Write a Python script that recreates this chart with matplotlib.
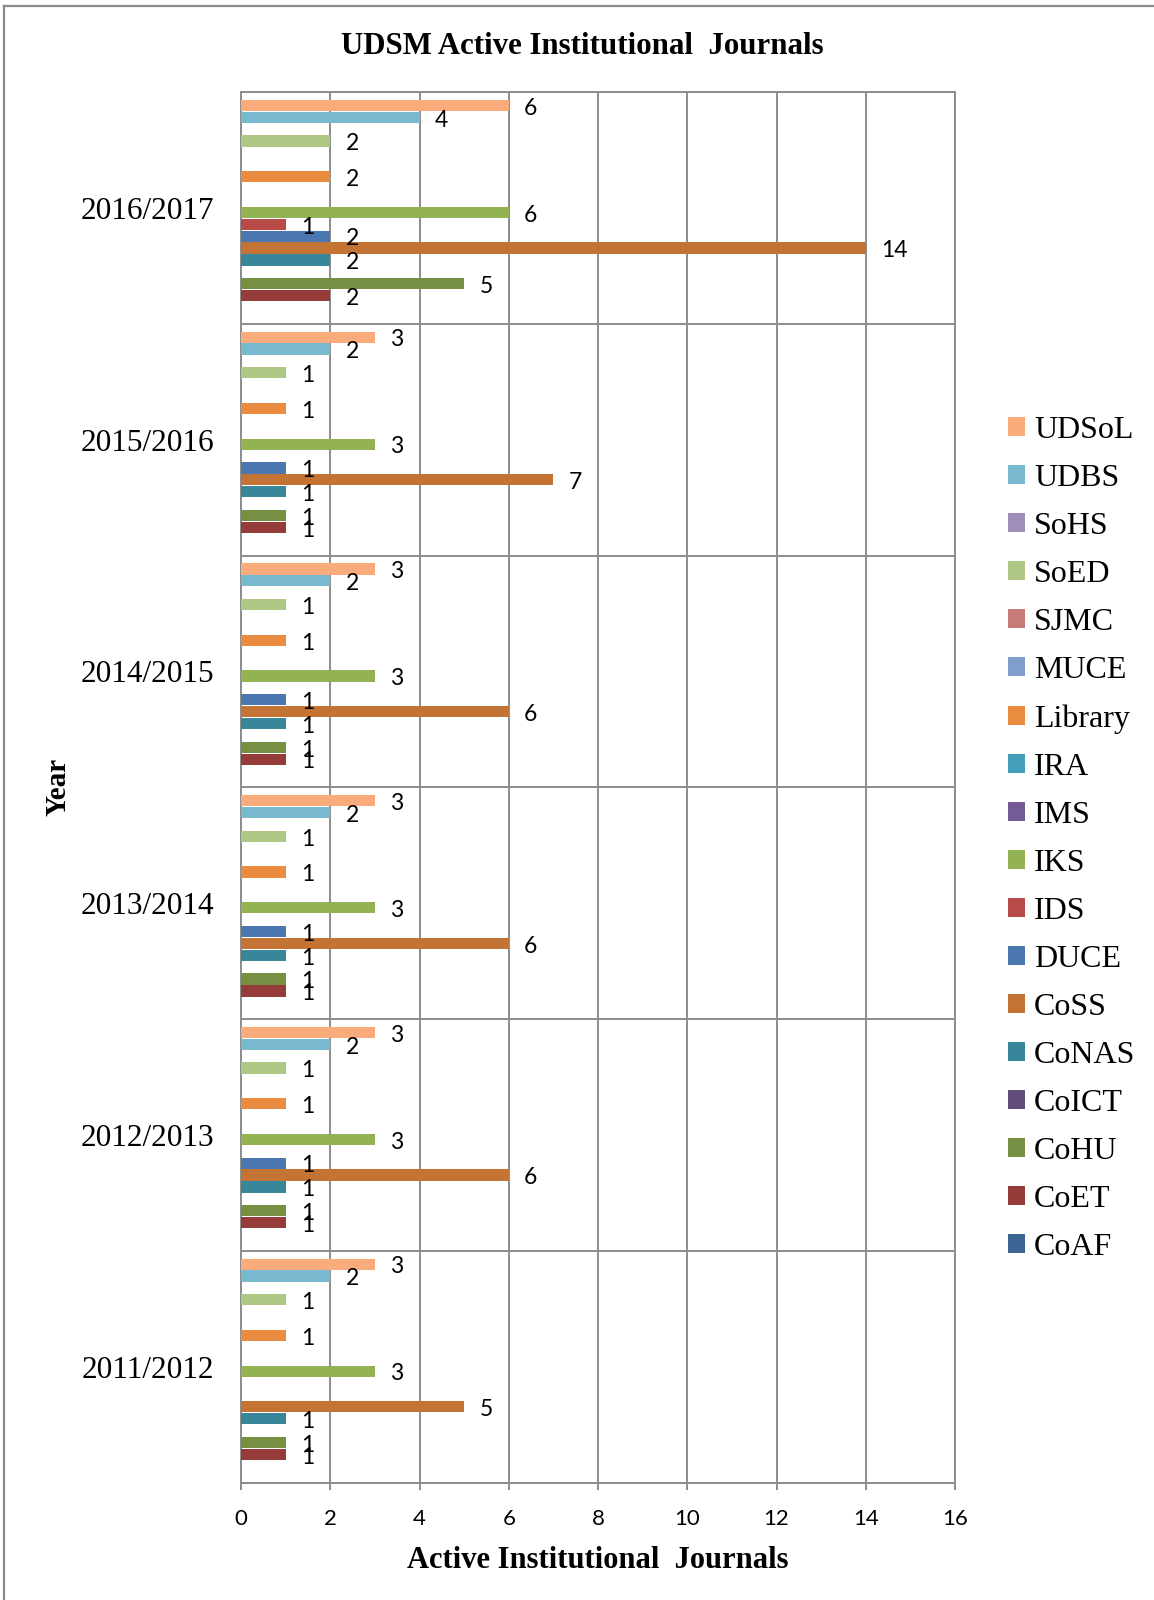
import numpy as np
import matplotlib
matplotlib.use("Agg")
import matplotlib.pyplot as plt
from matplotlib.patches import Patch

# series, bottom-to-top inside each year group (Excel order)
series = ['CoAF', 'CoET', 'CoHU', 'CoICT', 'CoNAS', 'CoSS', 'DUCE', 'IDS', 'IKS',
          'IMS', 'IRA', 'Library', 'MUCE', 'SJMC', 'SoED', 'SoHS', 'UDBS', 'UDSoL']
colors = ['#3C6594', '#953C3A', '#778F43', '#624C7C', '#37869A', '#C37434',
          '#4A77B0', '#B74B48', '#92B253', '#755B96', '#44A0BA', '#E98C3F',
          '#7F9ECB', '#C87A78', '#AFC784', '#9F8DBA', '#78B9D0', '#F9AB7B']

years = ['2011/2012', '2012/2013', '2013/2014', '2014/2015', '2015/2016', '2016/2017']

# None = empty cell (no bar, no label)
y2011_12 = [None, 1, 1, None, 1, 5, None, None, 3, None, None, 1, None, None, 1, None, 2, 3]
y2012_13 = [None, 1, 1, None, 1, 6, 1, None, 3, None, None, 1, None, None, 1, None, 2, 3]
y2013_14 = [None, 1, 1, None, 1, 6, 1, None, 3, None, None, 1, None, None, 1, None, 2, 3]
y2014_15 = [None, 1, 1, None, 1, 6, 1, None, 3, None, None, 1, None, None, 1, None, 2, 3]
y2015_16 = [None, 1, 1, None, 1, 7, 1, None, 3, None, None, 1, None, None, 1, None, 2, 3]
y2016_17 = [None, 2, 5, None, 2, 14, 2, 1, 6, None, None, 2, None, None, 2, None, 4, 6]

data = [y2011_12, y2012_13, y2013_14, y2014_15, y2015_16, y2016_17]

serif = 'Liberation Serif'
sans = 'Lato'
grid_c = '#8C8C8C'

fig = plt.figure(figsize=(11.54, 16), dpi=100)
ax = fig.add_axes([241/1154, 1-1482.5/1600, (955-241)/1154, (1482.5-92)/1600])

ns = len(series)
slot = 0.0513
bar_h = slot * 0.95
for j, name in enumerate(series):
    ys, ws = [], []
    for i, row in enumerate(data):
        if row[j] is not None:
            ys.append(i - ns*slot/2 + (j+0.5)*slot + 0.006)
            ws.append(row[j])
    ax.barh(ys, ws, height=bar_h, color=colors[j], linewidth=0, zorder=3)
    for yy, ww in zip(ys, ws):
        ax.annotate(str(ww), (ww, yy), xytext=(11, -2), textcoords='offset points',
                    ha='left', va='center', fontsize=16.5, family=sans, zorder=4)

ax.set_xlim(0, 16)
ax.set_ylim(-0.5, len(years)-0.5)
ax.set_xticks(np.arange(0, 17, 2))
ax.set_yticks(range(len(years)))
ax.set_yticklabels(years, family=serif, fontsize=22.5)
for lab in ax.get_xticklabels():
    lab.set_family(sans)
    lab.set_fontsize(16)
ax.tick_params(axis='y', length=0, pad=19)
ax.tick_params(axis='x', length=5, width=1.4, color=grid_c, pad=14)

# gridlines: vertical at ticks, horizontal between year groups
for x in np.arange(0, 17, 2):
    ax.axvline(x, color=grid_c, lw=1.4, zorder=1)
for b in np.arange(-0.5, len(years), 1.0):
    ax.axhline(b, color=grid_c, lw=1.4, zorder=1)
for s in ax.spines.values():
    s.set_color(grid_c)
    s.set_linewidth(1.4)

ax.set_xlabel('Active Institutional  Journals', family=serif, fontsize=22, fontweight='bold')
ax.xaxis.set_label_coords(0.5, -(1561-1482.5)/1390.5)
ax.xaxis.label.set_va('center')
ax.set_ylabel('Year', family=serif, fontsize=21, fontweight='bold')
ax.yaxis.set_label_coords(-(241-58)/714, 0.5)
ax.yaxis.label.set_va('center')

fig.text(582/1154, 1-46/1600, 'UDSM Active Institutional  Journals', family=serif,
         fontsize=22.2, fontweight='bold', ha='center', va='center')

handles = [Patch(facecolor=c, edgecolor='none') for c in colors][::-1]
leg = fig.legend(handles, series[::-1], loc='upper left',
                 bbox_to_anchor=(1008/1154, 1-416/1600), frameon=False,
                 prop={'family': serif, 'size': 23}, handlelength=0.52,
                 handleheight=0.52, handletextpad=0.3, labelspacing=0.595,
                 borderpad=0, borderaxespad=0)

# outer chart border (top and left edges visible)
fig.add_artist(plt.Line2D([4/1154, 1], [1-6/1600, 1-6/1600], color='#8C8C8C', lw=1.6,
                          transform=fig.transFigure))
fig.add_artist(plt.Line2D([4/1154, 4/1154], [0, 1-6/1600], color='#8C8C8C', lw=1.6,
                          transform=fig.transFigure))

fig.savefig('out.png', dpi=100, facecolor='white')
